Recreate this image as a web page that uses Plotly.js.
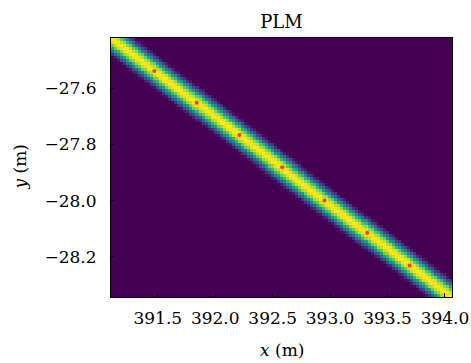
<!DOCTYPE html>
<html>
<head>
<meta charset="utf-8">
<script src="https://cdn.plot.ly/plotly-3.0.1.min.js"></script>
<style>html,body{margin:0;padding:0;background:#fff;}#chart{width:471px;height:363px;}</style>
</head>
<body>
<div id="chart"></div>
<script>
// Red sample points (m)
const pointX = [391.470, 391.839, 392.211, 392.583, 392.951, 393.323, 393.692];
const pointY = [-27.538, -27.651, -27.766, -27.881, -28.000, -28.115, -28.232];

// Band centre line end points (m) and the picture's extents
const lineStart = [391.093, -27.420];
const lineEnd   = [394.061, -28.346];
const xExtent = [391.093, 394.061];
const yExtent = [-28.344, -27.420];
const gridCols = 113;
const gridRows = 86;

// Intensity across the band vs vertical offset from the centre line (m)
const profileOffset = [0, 0.005, 0.01, 0.015, 0.02, 0.025, 0.03, 0.035, 0.04, 0.045, 0.05, 0.055, 0.06, 0.065, 0.07];
const profileValue  = [1.0, 0.99, 0.96, 0.91, 0.84, 0.76, 0.66, 0.55, 0.44, 0.33, 0.23, 0.14, 0.07, 0.02, 0.0];

// Tick labels
const xTicks = [391.5, 392.0, 392.5, 393.0, 393.5, 394.0];
const yTicks = [-27.6, -27.8, -28.0, -28.2];

const slope = (lineEnd[1] - lineStart[1]) / (lineEnd[0] - lineStart[0]);
const dx = (xExtent[1] - xExtent[0]) / gridCols;
const dy = (yExtent[1] - yExtent[0]) / gridRows;
const gx = [], gy = [], z = [];
for (let i = 0; i < gridCols; i++) gx.push(xExtent[0] + (i + 0.5) * dx);
for (let j = 0; j < gridRows; j++) gy.push(yExtent[0] + (j + 0.5) * dy);
const step = profileOffset[1] - profileOffset[0];
for (let j = 0; j < gridRows; j++) {
  const row = [];
  for (let i = 0; i < gridCols; i++) {
    const yl = lineStart[1] + slope * (gx[i] - lineStart[0]);
    const d = Math.abs(gy[j] - yl);
    const k = Math.round(d / step);
    row.push(k < profileValue.length ? profileValue[k] : 0);
  }
  z.push(row);
}

const font = 'DejaVu Serif';
const fnt = {family: font, size: 17, color: '#000'};
const data = [
  {type: 'heatmap', x: gx, y: gy, z: z, colorscale: 'Viridis', zmin: 0, zmax: 1,
   showscale: false, hoverinfo: 'skip'},
  {type: 'scatter', mode: 'markers', x: pointX, y: pointY,
   marker: {color: '#f03c1e', size: 4}, hoverinfo: 'skip'}
];
const layout = {
  width: 471, height: 363,
  margin: {l: 111, r: 19, t: 38, b: 66},
  paper_bgcolor: '#fff', plot_bgcolor: '#440154',
  showlegend: false,
  font: fnt,
  title: {text: 'PLM', font: {family: font, size: 18, color: '#000'},
          x: 0.5975, xref: 'container', xanchor: 'center', y: 0.94, yref: 'container', yanchor: 'middle'},
  xaxis: {range: xExtent, tickvals: xTicks, ticktext: xTicks.map(v => v.toFixed(1)),
          ticks: 'inside', ticklen: 4, tickcolor: '#000', tickwidth: 1,
          showline: true, linecolor: '#000', linewidth: 1, mirror: true,
          showgrid: false, zeroline: false, ticklabelstandoff: 6, tickfont: fnt},
  yaxis: {range: yExtent, tickvals: yTicks, ticktext: yTicks.map(v => '\u2212' + Math.abs(v).toFixed(1)),
          ticks: 'inside', ticklen: 4, tickcolor: '#000', tickwidth: 1,
          showline: true, linecolor: '#000', linewidth: 1, mirror: true,
          showgrid: false, zeroline: false, ticklabelstandoff: 10, tickfont: fnt},
  annotations: [
    {text: '<i>x</i> (m)', xref: 'paper', yref: 'paper', x: 0.5, y: 0, yshift: -53,
     xanchor: 'center', yanchor: 'middle', showarrow: false, font: fnt},
    {text: '<i>y</i> (m)', xref: 'paper', yref: 'paper', x: 0, y: 0.5, xshift: -92,
     xanchor: 'center', yanchor: 'middle', textangle: -90, showarrow: false, font: fnt}
  ]
};
Plotly.newPlot('chart', data, layout, {displayModeBar: false, staticPlot: true});
</script>
</body>
</html>
